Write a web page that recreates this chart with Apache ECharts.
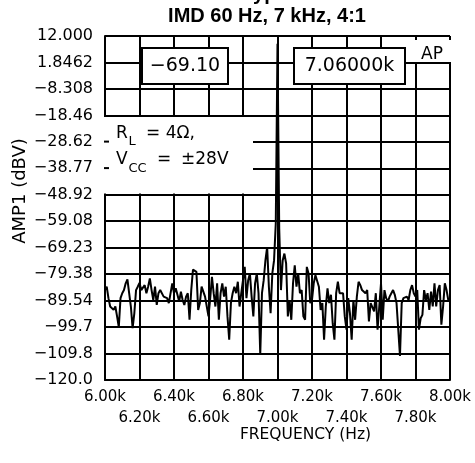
<!DOCTYPE html>
<html>
<head>
<meta charset="utf-8">
<script src="https://cdn.jsdelivr.net/npm/echarts@6/dist/echarts.min.js"></script>
<style>
html,body{margin:0;padding:0;background:#fff;}
#chart{width:475px;height:463px;}
</style>
</head>
<body>
<div id="chart"></div>
<script>
// ---- data ----
const FREQ_START = 6000;   // Hz
const FREQ_STEP = 10;      // Hz between samples
const amplitudes = [ // dBV
  -85.5,-84.2,-88.6,-91.8,-92.4,-93.1,-91.8,-95.6,-99.7,-88.6,
  -86.7,-85.5,-82.9,-81.4,-86.7,-91.8,-100.1,-94.4,-85.5,-84.2,
  -82.7,-85.5,-84.8,-83.6,-86.7,-84.2,-81.0,-85.5,-89.3,-84.2,
  -91.2,-86.7,-85.5,-86.1,-88.0,-87.3,-88.6,-90.5,-91.2,-82.9,
  -86.7,-84.8,-87.3,-89.9,-86.1,-89.3,-91.2,-88.0,-86.7,-96.9,
  -85.5,-77.6,-77.2,-78.5,-93.1,-90.5,-84.2,-86.1,-88.0,-91.8,
  -95.6,-88.6,-80.4,-86.7,-91.8,-82.9,-96.9,-86.7,-82.9,-88.0,
  -84.2,-95.6,-104.5,-90.5,-86.7,-84.2,-86.7,-82.3,-91.8,-86.7,
  -81.7,-76.6,-88.6,-81.7,-79.1,-88.0,-95.6,-82.9,-79.1,-86.7,
  -110.2,-86.7,-81.7,-74.1,-69.0,-84.2,-94.4,-79.1,-74.1,-60.0,
  9.0,-62.0,-85.5,-74.1,-71.5,-75.3,-95.6,-89.3,-96.9,-82.9,
  -76.0,-84.2,-79.1,-86.7,-85.5,-95.6,-96.9,-76.6,-79.1,-90.5,
  -89.3,-82.9,-79.8,-79.8,-84.2,-93.1,-90.5,-104.5,-91.8,-84.8,
  -90.5,-87.3,-98.2,-104.5,-86.7,-82.3,-86.7,-86.7,-86.7,-95.6,
  -100.7,-88.6,-94.4,-104.5,-89.3,-96.9,-88.0,-82.3,-83.6,-85.5,
  -84.8,-86.7,-85.5,-97.5,-90.5,-89.9,-93.7,-86.7,-100.7,-91.8,
  -82.9,-96.9,-85.5,-88.6,-89.9,-88.0,-86.7,-85.5,-87.3,-90.5,
  -91.2,-110.8,-90.5,-88.6,-89.3,-88.0,-89.3,-85.5,-83.6,-86.7,
  -88.0,-85.5,-100.7,-96.3,-95.0,-85.5,-89.3,-86.7,-93.1,-86.1,
  -91.8,-82.9,-91.8,-85.5,-83.6,-98.8,-91.8,-82.9,-85.5,-89.3,
  -89.9
];
const Y_MIN = -120, Y_MAX = 12, Y_DIVS = 13;
const yTickLabels = ['\u2212120.0','\u2212109.8','\u221299.7','\u221289.54','\u221279.38','\u221269.23',
  '\u221259.08','\u221248.92','\u221238.77','\u221228.62','\u221218.46','\u22128.308','1.8462','12.000'];
const xTickLabels = ['6.00k','6.20k','6.40k','6.60k','6.80k','7.00k','7.20k','7.40k','7.60k','7.80k','8.00k'];
const X_MIN = 6000, X_MAX = 8000, X_INTERVAL = 200;
const titleText = 'IMD 60 Hz, 7 kHz, 4:1';
const markerLevel = '\u221269.10';
const markerFreq = '7.06000k';

// ---- build ----
const yStep = (Y_MAX - Y_MIN) / Y_DIVS;
const seriesData = amplitudes.map((v, i) => [FREQ_START + i * FREQ_STEP, (v - Y_MIN) / yStep]);

const FONT = '"DejaVu Sans", sans-serif';
const chart = echarts.init(document.getElementById('chart'), null, {renderer: 'canvas'});

function txt(text, x, y, size, opts) {
  opts = opts || {};
  return {
    type: 'text', x: x, y: y, z: 110, rotation: opts.rotation || 0,
    style: {
      text: text, fill: '#000', fontSize: size,
      fontFamily: opts.family || FONT, fontWeight: opts.weight || 'normal',
      align: opts.align || 'left', textAlign: opts.align || 'left',
      verticalAlign: 'middle', textVerticalAlign: 'middle'
    }
  };
}
function whiteRect(x, y, w, h, stroke) {
  return {
    type: 'rect', z: 100, shape: {x: x, y: y, width: w, height: h},
    style: {fill: '#fff', stroke: stroke ? '#000' : null, lineWidth: stroke ? 2 : 0}
  };
}
function xLabelAxis(parity, margin, withLines) {
  return {
    type: 'value', min: X_MIN, max: X_MAX, interval: X_INTERVAL, position: 'bottom',
    axisLine: {show: withLines, onZero: false, lineStyle: {color: '#000', width: 2}},
    axisTick: {show: false},
    splitLine: {show: withLines, lineStyle: {color: '#000', width: 2}},
    axisLabel: {
      color: '#000', fontFamily: FONT, fontSize: 15, margin: margin,
      showMinLabel: true, showMaxLabel: true, hideOverlap: false,
      formatter: function (v) {
        const idx = Math.round((v - X_MIN) / X_INTERVAL);
        return idx % 2 === parity ? xTickLabels[idx] : '';
      }
    }
  };
}

chart.setOption({
  animation: false,
  backgroundColor: '#fff',
  grid: {left: 105, right: 25, top: 36, bottom: 83, containLabel: false},
  xAxis: [xLabelAxis(0, 10, true), xLabelAxis(1, 31, false)],
  yAxis: {
    type: 'value', min: 0, max: Y_DIVS, interval: 1,
    axisLine: {show: true, lineStyle: {color: '#000', width: 2}},
    axisTick: {show: false},
    splitLine: {show: true, lineStyle: {color: '#000', width: 2}},
    axisLabel: {
      color: '#000', fontFamily: FONT, fontSize: 16, margin: 12,
      showMinLabel: true, showMaxLabel: true,
      formatter: function (v) { return yTickLabels[Math.round(v)]; }
    }
  },
  series: [{
    type: 'line', data: seriesData, showSymbol: false, symbol: 'none', xAxisIndex: 0,
    lineStyle: {color: '#000', width: 2}, z: 5
  }],
  graphic: [
    // cut-off line above the title
    txt('Typical', 276, -6, 20, {family: '"Liberation Sans", Arial, sans-serif', weight: 'bold', align: 'center'}),
    txt(titleText, 267, 16.5, 20, {family: '"Liberation Sans", Arial, sans-serif', weight: 'bold', align: 'center'}),
    // marker readout boxes
    whiteRect(142, 48, 86, 36, true),
    txt(markerLevel, 185, 66, 19, {align: 'center'}),
    whiteRect(294, 48, 111, 36, true),
    txt(markerFreq, 349.5, 66, 19, {align: 'center'}),
    // AP logo area
    whiteRect(412, 40, 41, 22, false),
    txt('AP', 421, 54.5, 17),
    // conditions text area
    whiteRect(103, 117, 150, 76.5, false),
    {type: 'line', z: 105, shape: {x1: 104, y1: 141.6, x2: 109, y2: 141.6}, style: {stroke: '#000', lineWidth: 2}},
    {type: 'line', z: 105, shape: {x1: 104, y1: 168.1, x2: 109, y2: 168.1}, style: {stroke: '#000', lineWidth: 2}},
    txt('R', 116, 133.5, 17),
    txt('L', 128.5, 141.5, 13),
    txt('= 4\u03A9,', 146, 133.5, 17),
    txt('V', 116, 160, 17),
    txt('CC', 128.5, 168.5, 13),
    txt('=', 157, 160, 17),
    txt('\u00B128V', 181, 160, 17),
    // axis names
    txt('AMP1 (dBV)', 20, 191, 18, {align: 'center', rotation: Math.PI / 2}),
    txt('FREQUENCY (Hz)', 305.5, 435, 15.5, {align: 'center'})
  ]
});
</script>
</body>
</html>
